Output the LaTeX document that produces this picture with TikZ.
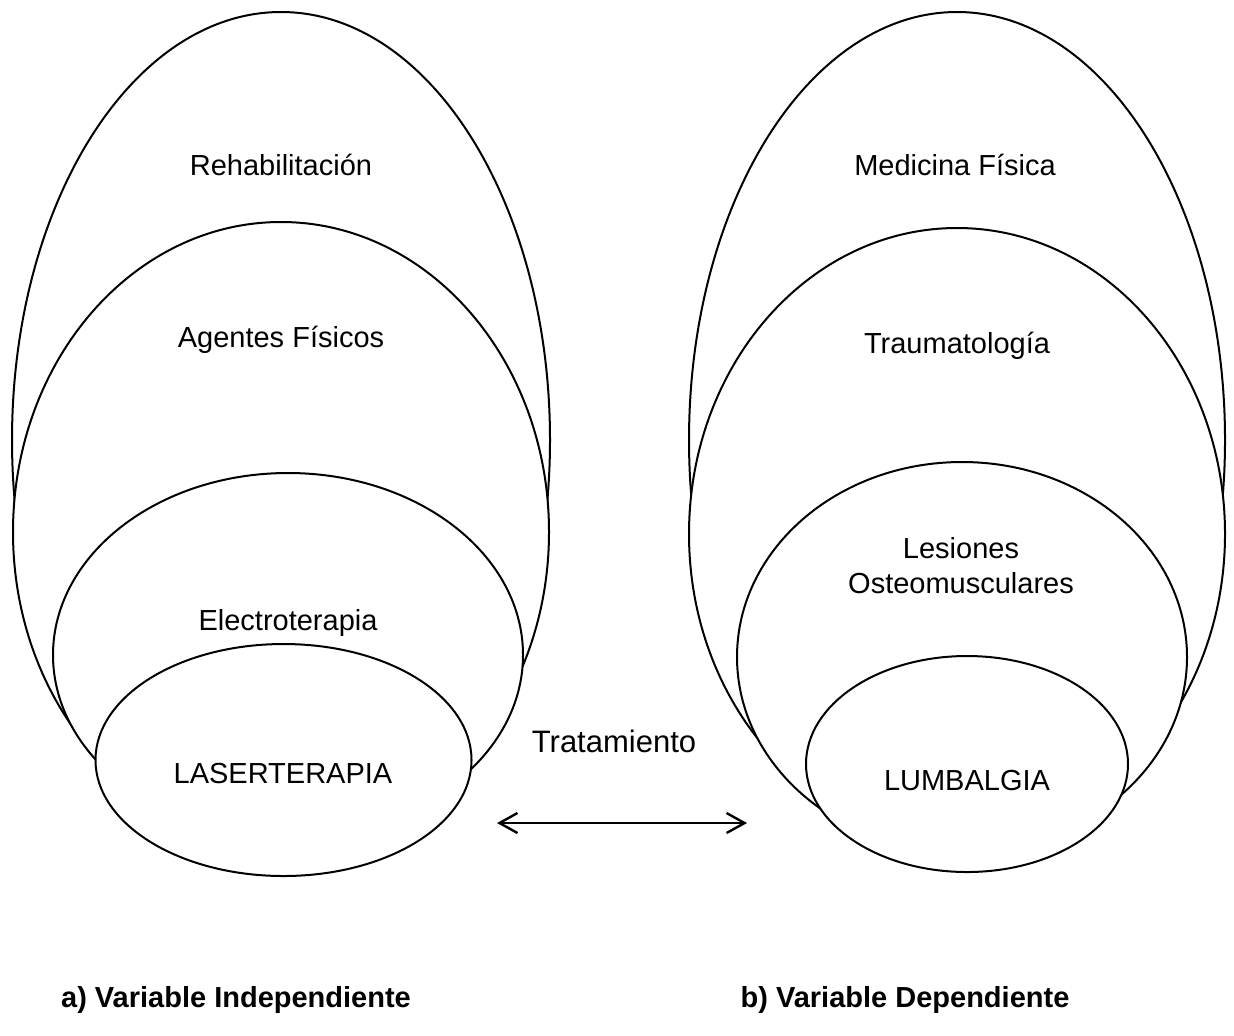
\documentclass[tikz,border=0pt]{standalone}
\usepackage{fontspec}
\setmainfont{Liberation Sans}
\usetikzlibrary{arrows.meta}

\begin{document}
\begin{tikzpicture}[x=0.5pt, y=-0.5pt,
  oval/.style={draw, line width=1pt, fill=white},
  lbl/.style={font=\fontsize{14.5}{17.5}\selectfont, align=center, inner sep=0pt},
  pie/.style={font=\fontsize{14.5}{17.5}\selectfont\bfseries, inner sep=0pt}]

  \useasboundingbox (0,0) rectangle (1234,1035);

  % a) variable independiente
  \draw[oval] (281,440) ellipse [x radius=269, y radius=428];
  \draw[oval] (281,532) ellipse [x radius=268, y radius=310];
  \draw[oval] (288,655) ellipse [x radius=235, y radius=182];
  \draw[oval] (283.5,760) ellipse [x radius=188, y radius=116];

  \node[lbl] (rehab)  at (281,165) {Rehabilitación};
  \node[lbl] (agente) at (281,340) {Agentes Físicos};
  \node[lbl] (electro) at (288,623) {Electroterapia};
  \node[lbl] (laser)  at (283,773) {LASERTERAPIA};

  % b) variable dependiente
  \draw[oval] (957,440) ellipse [x radius=268, y radius=428];
  \draw[oval] (957,534) ellipse [x radius=268, y radius=306];
  \draw[oval] (962,657) ellipse [x radius=225, y radius=195];
  \draw[oval] (967,764) ellipse [x radius=161, y radius=108];

  \node[lbl] (medicina) at (955,165) {Medicina Física};
  \node[lbl] (trauma)   at (957,346) {Traumatología};
  \node[lbl] (lesion)   at (961,566) {Lesiones\\Osteomusculares};
  \node[lbl] (lumbal)   at (967,780) {LUMBALGIA};

  % relacion
  \node[lbl, font=\fontsize{15.5}{18}\selectfont] (trata) at (614,741) {Tratamiento};
  \coordinate (izq) at (497,823);
  \coordinate (der) at (747,823);
  \draw[{Straight Barb[length=9pt,width=10pt]}-{Straight Barb[length=9pt,width=10pt]}, line width=1.2pt] (izq) -- (der);

  \node[pie] (vi) at (236,1000) {a) Variable Independiente};
  \node[pie] (vd) at (905,1000) {b) Variable Dependiente};

\end{tikzpicture}
\end{document}
